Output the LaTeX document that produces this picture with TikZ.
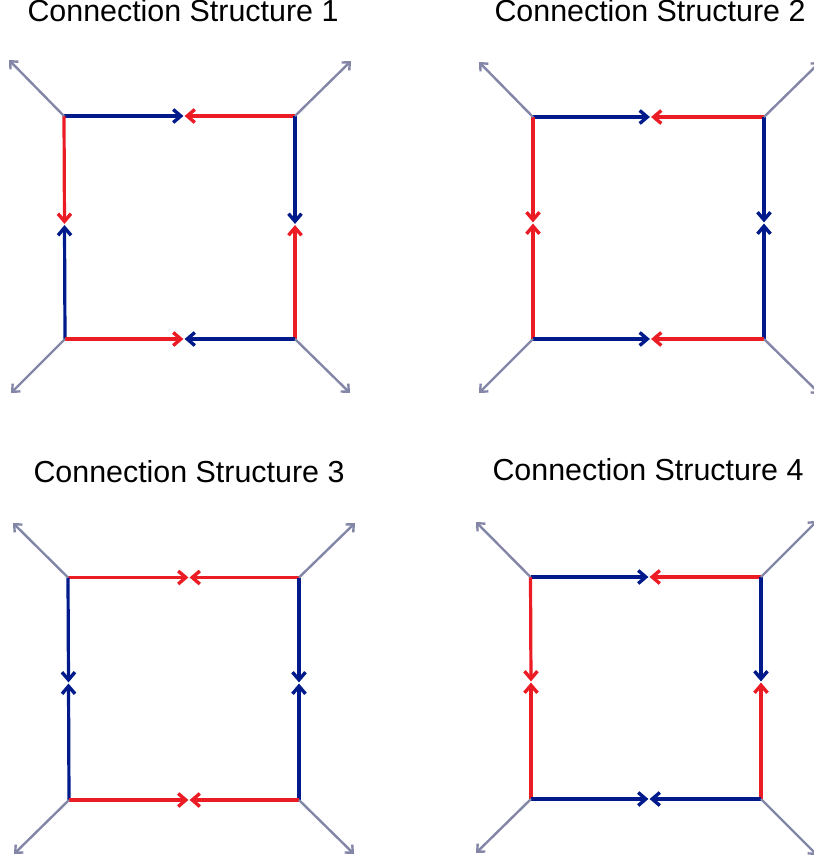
\documentclass[tikz,border=0pt]{standalone}
\usepackage{fontspec}
\setmainfont{Liberation Sans}
\usetikzlibrary{arrows.meta}

\definecolor{linkblue}{RGB}{0,26,140}
\definecolor{linkred}{RGB}{236,28,36}
\definecolor{leggray}{RGB}{132,134,168}

\tikzset{
  bluelink/.style={draw=linkblue, line width=1.6pt, shorten >=0.3pt, -{Straight Barb[length=3.8pt,width=6.5pt,line width=1.7pt]}},
  redlink/.style={draw=linkred, line width=1.6pt, shorten >=0.3pt, -{Straight Barb[length=3.8pt,width=6.5pt,line width=1.7pt]}},
  leg/.style={draw=leggray, line width=1.2pt, -{Straight Barb[length=3pt,width=5.5pt]}},
  title/.style={anchor=base, font=\fontsize{15.2pt}{18pt}\selectfont}
}

\begin{document}
\begin{tikzpicture}[x=0.5pt, y=-0.5pt]
            \useasboundingbox (0, 0) rectangle (814, 863);

            % structure 1
            \node[title] (title1) at (183, 21) {Connection Structure 1};
            \coordinate (tl1) at (64, 116);
            \coordinate (tr1) at (295, 116);
            \coordinate (bl1) at (65, 339);
            \coordinate (br1) at (295, 339);
            \coordinate (top1) at (184, 116);
            \coordinate (bot1) at (184, 339);
            \coordinate (lft1) at (64.5, 224.5);
            \coordinate (rgt1) at (295, 224.5);
            \coordinate (otl1) at (9, 60);
            \coordinate (otr1) at (351, 61);
            \coordinate (obl1) at (11, 393);
            \coordinate (obr1) at (350, 393);
            \draw[bluelink] (tl1) -- (top1);
            \draw[redlink] (tr1) -- (top1);
            \draw[redlink] (tl1) -- (lft1);
            \draw[bluelink] (bl1) -- (lft1);
            \draw[bluelink] (tr1) -- (rgt1);
            \draw[redlink] (br1) -- (rgt1);
            \draw[redlink] (bl1) -- (bot1);
            \draw[bluelink] (br1) -- (bot1);
            \draw[leg] (tl1) -- (otl1);
            \draw[leg] (tr1) -- (otr1);
            \draw[leg] (bl1) -- (obl1);
            \draw[leg] (br1) -- (obr1);

            % structure 2
            \node[title] (title2) at (650, 21) {Connection Structure 2};
            \coordinate (tl2) at (533, 117);
            \coordinate (tr2) at (764, 117);
            \coordinate (bl2) at (533, 339);
            \coordinate (br2) at (764, 339);
            \coordinate (top2) at (650.5, 117);
            \coordinate (bot2) at (650.5, 339);
            \coordinate (lft2) at (533, 223);
            \coordinate (rgt2) at (764, 223);
            \coordinate (otl2) at (479, 62);
            \coordinate (otr2) at (820, 62);
            \coordinate (obl2) at (479, 393);
            \coordinate (obr2) at (820, 394);
            \draw[bluelink] (tl2) -- (top2);
            \draw[redlink] (tr2) -- (top2);
            \draw[redlink] (tl2) -- (lft2);
            \draw[redlink] (bl2) -- (lft2);
            \draw[bluelink] (tr2) -- (rgt2);
            \draw[bluelink] (br2) -- (rgt2);
            \draw[bluelink] (bl2) -- (bot2);
            \draw[redlink] (br2) -- (bot2);
            \draw[leg] (tl2) -- (otl2);
            \draw[leg] (tr2) -- (otr2);
            \draw[leg] (bl2) -- (obl2);
            \draw[leg] (br2) -- (obr2);

            % structure 3
            \node[title] (title3) at (189, 482.5) {Connection Structure 3};
            \coordinate (tl3) at (68, 577.5);
            \coordinate (tr3) at (299, 577.5);
            \coordinate (bl3) at (69, 800);
            \coordinate (br3) at (299, 800);
            \coordinate (top3) at (189, 577.5);
            \coordinate (bot3) at (189, 800);
            \coordinate (lft3) at (68.5, 683);
            \coordinate (rgt3) at (299, 683);
            \coordinate (otl3) at (13, 523);
            \coordinate (otr3) at (355, 523);
            \coordinate (obl3) at (14, 854);
            \coordinate (obr3) at (354, 854);
            \draw[redlink] (tl3) -- (top3);
            \draw[redlink] (tr3) -- (top3);
            \draw[bluelink] (tl3) -- (lft3);
            \draw[bluelink] (bl3) -- (lft3);
            \draw[bluelink] (tr3) -- (rgt3);
            \draw[bluelink] (br3) -- (rgt3);
            \draw[redlink] (bl3) -- (bot3);
            \draw[redlink] (br3) -- (bot3);
            \draw[leg] (tl3) -- (otl3);
            \draw[leg] (tr3) -- (otr3);
            \draw[leg] (bl3) -- (obl3);
            \draw[leg] (br3) -- (obr3);

            % structure 4
            \node[title] (title4) at (648, 480.5) {Connection Structure 4};
            \coordinate (tl4) at (530.5, 577);
            \coordinate (tr4) at (761, 577);
            \coordinate (bl4) at (531, 799);
            \coordinate (br4) at (761, 799);
            \coordinate (top4) at (649, 577);
            \coordinate (bot4) at (649, 799);
            \coordinate (lft4) at (531, 682);
            \coordinate (rgt4) at (761, 682);
            \coordinate (otl4) at (476, 522);
            \coordinate (otr4) at (817, 521);
            \coordinate (obl4) at (476, 853);
            \coordinate (obr4) at (817, 855);
            \draw[bluelink] (tl4) -- (top4);
            \draw[redlink] (tr4) -- (top4);
            \draw[redlink] (tl4) -- (lft4);
            \draw[redlink] (bl4) -- (lft4);
            \draw[bluelink] (tr4) -- (rgt4);
            \draw[redlink] (br4) -- (rgt4);
            \draw[bluelink] (bl4) -- (bot4);
            \draw[bluelink] (br4) -- (bot4);
            \draw[leg] (tl4) -- (otl4);
            \draw[leg] (tr4) -- (otr4);
            \draw[leg] (bl4) -- (obl4);
            \draw[leg] (br4) -- (obr4);
        \end{tikzpicture}
\end{document}
